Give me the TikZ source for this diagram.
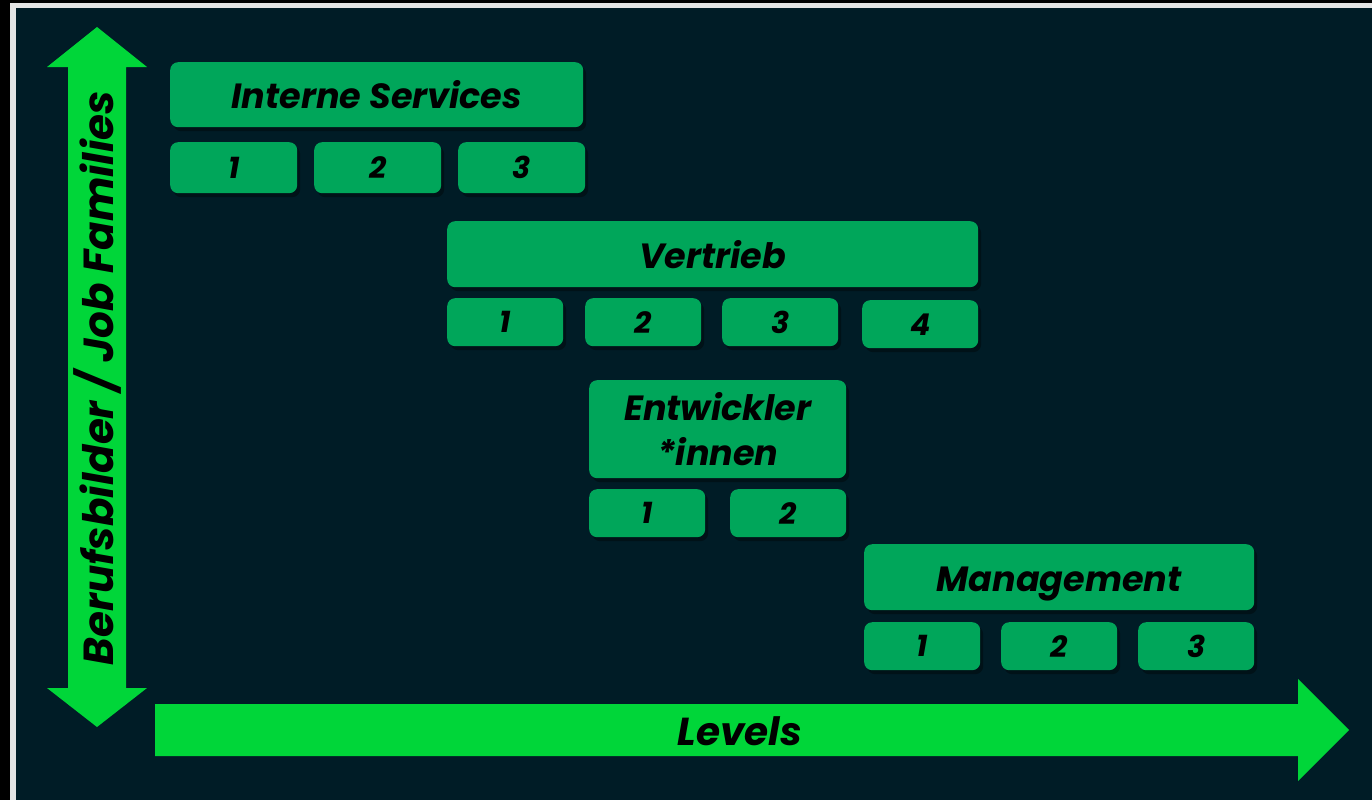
\documentclass[tikz,border=0pt]{standalone}
\usepackage{fontspec}
\setmainfont{Poppins}
\usepackage{tikz}
\usetikzlibrary{positioning, shadows}

\definecolor{bgdark}{RGB}{0,28,38}
\definecolor{framegray}{RGB}{228,228,228}
\definecolor{boxgreen}{RGB}{0,166,90}
\definecolor{arrowgreen}{RGB}{0,214,57}

\begin{document}
\begin{tikzpicture}[x=1pt,y=-1pt,
    famhead/.style={fill=boxgreen, rounded corners=8pt, anchor=north west, inner sep=0pt,
      align=center, font=\fontsize{35}{45}\selectfont\bfseries\itshape,
      drop shadow={shadow xshift=3pt, shadow yshift=-4pt, opacity=0.35, fill=black}},
    famline/.style={famhead, text height=28pt, text depth=0pt},
    lvlbox/.style={famhead, minimum width=116pt, minimum height=48pt,
      font=\fontsize{30}{32}\selectfont\bfseries\itshape},
    axislabel/.style={font=\fontsize{39}{42}\selectfont\bfseries\itshape, inner sep=0pt}]

    % Frame
    \fill[black] (0,0) rectangle (1372,800);
    \fill[framegray] (10,3) rectangle (1372,800);
    \fill[bgdark] (16,8) rectangle (1372,800);
    \useasboundingbox (0,0) rectangle (1372,800);

    % Axes
    \fill[arrowgreen] (97,27) -- (147,67) -- (126,67) -- (126,688) -- (147,688)
      -- (97,727) -- (47,688) -- (68,688) -- (68,67) -- (47,67) -- cycle;
    \fill[arrowgreen] (155,704) -- (1298,704) -- (1298,679) -- (1349,730)
      -- (1298,781) -- (1298,756) -- (155,756) -- cycle;
    \node[axislabel, rotate=90, font=\fontsize{42}{44}\selectfont\bfseries\itshape] (jobfam) at (97,378) {Berufsbilder / Job Families};
    \node[axislabel] (levels) at (740,731) {Levels};

    % Interne Services
    \node[famline, minimum width=413pt, minimum height=65pt] (is) at (170,62) {Interne Services};
    \node[lvlbox, minimum width=127pt, minimum height=51pt] (is1) at (170,142) {1};
    \node[lvlbox, minimum width=127pt, minimum height=51pt] (is2) at (314,142) {2};
    \node[lvlbox, minimum width=127pt, minimum height=51pt] (is3) at (458,142) {3};

    % Vertrieb
    \node[famline, minimum width=531pt, minimum height=66pt] (vt) at (447,221) {Vertrieb};
    \node[lvlbox] (vt1) at (447,298) {1};
    \node[lvlbox] (vt2) at (585,298) {2};
    \node[lvlbox] (vt3) at (722,298) {3};
    \node[lvlbox] (vt4) at (862,300) {4};

    % Entwickler*innen
    \node[famhead, minimum width=257pt, minimum height=98pt] (ew) at (589,380) {Entwickler\\*innen};
    \node[lvlbox] (ew1) at (589,489) {1};
    \node[lvlbox] (ew2) at (730,489) {2};

    % Management
    \node[famline, minimum width=390pt, minimum height=66pt] (mg) at (864,544) {Management};
    \node[lvlbox] (mg1) at (864,622) {1};
    \node[lvlbox] (mg2) at (1001,622) {2};
    \node[lvlbox] (mg3) at (1138,622) {3};
\end{tikzpicture}
\end{document}
